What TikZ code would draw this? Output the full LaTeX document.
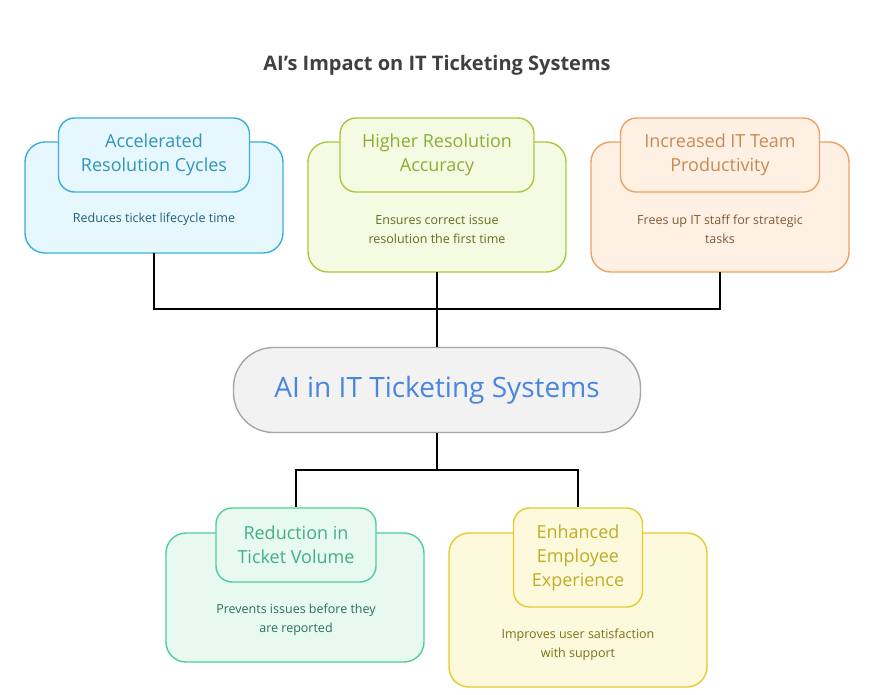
\documentclass[tikz,border=0pt]{standalone}
\usepackage{fontspec}
\setmainfont{Open Sans}
\usetikzlibrary{positioning}
\definecolor{bluL}{HTML}{3AAFD9}\definecolor{bluF}{HTML}{E6F7FD}
\definecolor{grnL}{HTML}{A5CB3C}\definecolor{grnF}{HTML}{F4FBE2}
\definecolor{orgL}{HTML}{EFA062}\definecolor{orgF}{HTML}{FEF1E4}
\definecolor{tealL}{HTML}{4ECF98}\definecolor{tealF}{HTML}{E7F9F0}
\definecolor{yelL}{HTML}{E3CC2C}\definecolor{yelF}{HTML}{FDF9DD}
\begin{document}
\begin{tikzpicture}[x=1pt,y=-1pt,
  outer/.style={draw=#1L,fill=#1F,line width=1.4pt,rounded corners=20pt},
  inner/.style={draw=#1L,fill=#1F,line width=1.4pt,rounded corners=16pt,
    text=#1L!85!black,font=\fontsize{18}{24}\selectfont,align=center,inner sep=0pt},
  desc/.style={text=#1L!55!black,font=\fontsize{12.5}{19}\selectfont,align=center},
  link/.style={line width=1.5pt,black}]
\useasboundingbox (0,0) rectangle (873,694);
\fill[white] (0,0) rectangle (873,694);
\node[font=\bfseries\fontsize{20}{24}\selectfont,text=black!75] (title) at (437,65) {AI's Impact on IT Ticketing Systems};

% top row
\draw[outer=blu] (25,142) rectangle (283,253);
\draw[outer=grn] (308,142) rectangle (566,272);
\draw[outer=org] (591,142) rectangle (849,272);
\coordinate (accB) at (154,253);
\coordinate (accT) at (437,272);
\coordinate (proB) at (720,272);
\node[inner=blu,minimum width=191pt,minimum height=74pt] (acc) at (154,155) {Accelerated\\Resolution Cycles};
\node[inner=grn,minimum width=194pt,minimum height=74pt] (hra) at (437,155) {Higher Resolution\\Accuracy};
\node[inner=org,minimum width=199pt,minimum height=74pt] (pro) at (720,155) {Increased IT Team\\Productivity};
\node[desc=blu] at (154,219) {Reduces ticket lifecycle time};
\node[desc=grn] at (437,229) {Ensures correct issue\\resolution the first time};
\node[desc=org] at (720,229) {Frees up IT staff for strategic\\tasks};

% centre
\node[draw=black!35,fill=black!5,line width=1.4pt,rounded corners=40pt,
  minimum width=407pt,minimum height=85pt,text={rgb,255:red,74;green,134;blue,224},
  font=\fontsize{28}{32}\selectfont] (ai) at (437,390) {AI in IT Ticketing Systems};

\draw[link] (accB) -- (154,309) -- (720,309) -- (proB);
\draw[link] (accT) -- (ai.north);

% bottom row
\draw[outer=teal] (166,533) rectangle (424,662);
\draw[outer=yel] (449,533) rectangle (707,687);
\node[inner=teal,minimum width=160pt,minimum height=74pt] (red) at (296,545) {Reduction in\\Ticket Volume};
\node[inner=yel,minimum width=129pt,minimum height=99pt] (emp) at (578,557.5) {Enhanced\\Employee\\Experience};
\node[desc=teal] at (296,620) {Prevents issues before they\\are reported};
\node[desc=yel] at (578,645) {Improves user satisfaction\\with support};

\draw[link] (ai.south) -- (437,470) -- (296,470) -- (red.north);
\draw[link] (437,470) -- (578,470) -- (emp.north);
\end{tikzpicture}
\end{document}
